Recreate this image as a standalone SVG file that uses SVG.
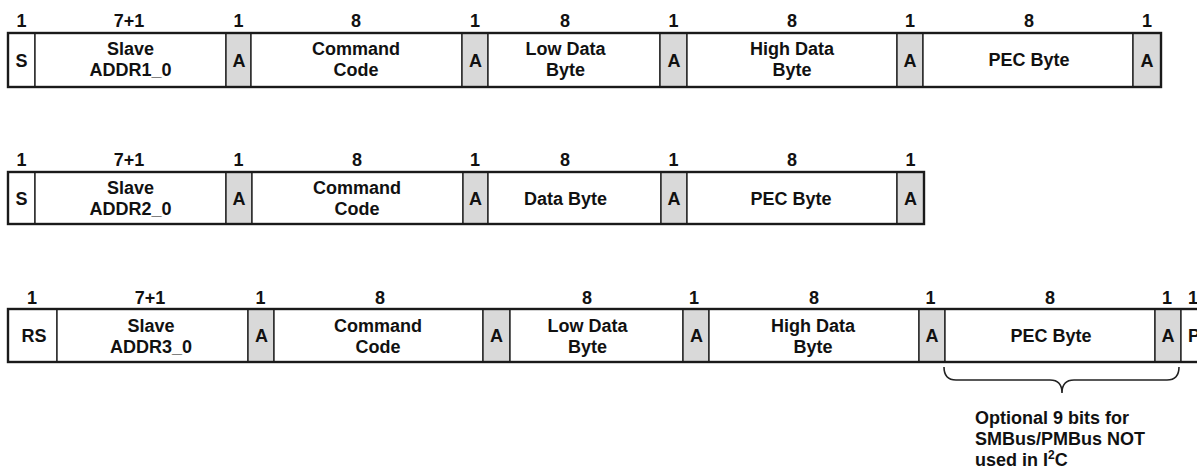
<svg xmlns="http://www.w3.org/2000/svg" width="1197" height="471" viewBox="0 0 1197 471">
<style>
.c{fill:#fff;stroke:#222;stroke-width:1.4}
.a{fill:#d9d9d9;stroke:#222;stroke-width:1.4}
.f{fill:none;stroke:#1a1a1a;stroke-width:2.4}
text{font-family:"Liberation Sans",Arial,sans-serif;font-weight:bold;font-size:18px;fill:#111}
.m{text-anchor:middle}
.br{fill:none;stroke:#222;stroke-width:1.6}
</style>
<rect width="1197" height="471" fill="#fff"/>

<!-- Row 1 -->
<g id="row1">
<g id="r1-s"><rect class="c" x="8" y="33" width="27" height="54"/><text class="m" x="21.5" y="26.5">1</text><text class="m" x="21.5" y="66.5">S</text></g>
<g id="r1-addr"><rect class="c" x="35" y="33" width="191" height="54"/><text class="m" x="129" y="26.5">7+1</text><text class="m" x="130.5" y="55">Slave</text><text class="m" x="130.5" y="76">ADDR1_0</text></g>
<g id="r1-a1"><rect class="a" x="226" y="33" width="25" height="54"/><text class="m" x="238.5" y="26.5">1</text><text class="m" x="239" y="66.5">A</text></g>
<g id="r1-cmd"><rect class="c" x="251" y="33" width="211" height="54"/><text class="m" x="356" y="26.5">8</text><text class="m" x="356" y="55">Command</text><text class="m" x="356" y="76">Code</text></g>
<g id="r1-a2"><rect class="a" x="462" y="33" width="26" height="54"/><text class="m" x="475" y="26.5">1</text><text class="m" x="475.5" y="66.5">A</text></g>
<g id="r1-low"><rect class="c" x="488" y="33" width="172" height="54"/><text class="m" x="565" y="26.5">8</text><text class="m" x="565.5" y="55">Low Data</text><text class="m" x="565.5" y="76">Byte</text></g>
<g id="r1-a3"><rect class="a" x="660" y="33" width="27" height="54"/><text class="m" x="673.5" y="26.5">1</text><text class="m" x="674" y="66.5">A</text></g>
<g id="r1-high"><rect class="c" x="687" y="33" width="210" height="54"/><text class="m" x="792" y="26.5">8</text><text class="m" x="792" y="55">High Data</text><text class="m" x="792" y="76">Byte</text></g>
<g id="r1-a4"><rect class="a" x="897" y="33" width="26" height="54"/><text class="m" x="910" y="26.5">1</text><text class="m" x="910" y="66.5">A</text></g>
<g id="r1-pec"><rect class="c" x="923" y="33" width="210" height="54"/><text class="m" x="1029" y="26.5">8</text><text class="m" x="1029" y="66">PEC Byte</text></g>
<g id="r1-a5"><rect class="a" x="1133" y="33" width="28" height="54"/><text class="m" x="1147" y="26.5">1</text><text class="m" x="1147" y="66.5">A</text></g>
<rect class="f" x="8" y="33" width="1153" height="54"/>
</g>

<!-- Row 2 -->
<g id="row2">
<g id="r2-s"><rect class="c" x="8" y="172" width="27" height="52"/><text class="m" x="21.5" y="166">1</text><text class="m" x="21.5" y="204.5">S</text></g>
<g id="r2-addr"><rect class="c" x="35" y="172" width="191" height="52"/><text class="m" x="129" y="166">7+1</text><text class="m" x="130.5" y="193.5">Slave</text><text class="m" x="130.5" y="214.5">ADDR2_0</text></g>
<g id="r2-a1"><rect class="a" x="226" y="172" width="26" height="52"/><text class="m" x="238.5" y="166">1</text><text class="m" x="239" y="204.5">A</text></g>
<g id="r2-cmd"><rect class="c" x="252" y="172" width="211" height="52"/><text class="m" x="357" y="166">8</text><text class="m" x="357" y="193.5">Command</text><text class="m" x="357" y="214.5">Code</text></g>
<g id="r2-a2"><rect class="a" x="463" y="172" width="25" height="52"/><text class="m" x="475" y="166">1</text><text class="m" x="475.5" y="204.5">A</text></g>
<g id="r2-data"><rect class="c" x="488" y="172" width="173" height="52"/><text class="m" x="565" y="166">8</text><text class="m" x="565.5" y="204.5">Data Byte</text></g>
<g id="r2-a3"><rect class="a" x="661" y="172" width="26" height="52"/><text class="m" x="673.5" y="166">1</text><text class="m" x="674" y="204.5">A</text></g>
<g id="r2-pec"><rect class="c" x="687" y="172" width="210" height="52"/><text class="m" x="792" y="166">8</text><text class="m" x="791" y="204.5">PEC Byte</text></g>
<g id="r2-a4"><rect class="a" x="897" y="172" width="27" height="52"/><text class="m" x="910.5" y="166">1</text><text class="m" x="910.5" y="204.5">A</text></g>
<rect class="f" x="8" y="172" width="916" height="52"/>
</g>

<!-- Row 3 -->
<g id="row3">
<g id="r3-rs"><rect class="c" x="8" y="309" width="49" height="53"/><text class="m" x="32" y="304">1</text><text class="m" x="34" y="342">RS</text></g>
<g id="r3-addr"><rect class="c" x="57" y="309" width="191" height="53"/><text class="m" x="150" y="304">7+1</text><text class="m" x="151" y="331.5">Slave</text><text class="m" x="151" y="352.5">ADDR3_0</text></g>
<g id="r3-a1"><rect class="a" x="248" y="309" width="26" height="53"/><text class="m" x="260.5" y="304">1</text><text class="m" x="261.5" y="342">A</text></g>
<g id="r3-cmd"><rect class="c" x="274" y="309" width="209" height="53"/><text class="m" x="380" y="304">8</text><text class="m" x="378" y="331.5">Command</text><text class="m" x="378" y="352.5">Code</text></g>
<g id="r3-a2"><rect class="a" x="483" y="309" width="27" height="53"/><text class="m" x="496.5" y="342">A</text></g>
<g id="r3-low"><rect class="c" x="510" y="309" width="173" height="53"/><text class="m" x="587" y="304">8</text><text class="m" x="587.5" y="331.5">Low Data</text><text class="m" x="587.5" y="352.5">Byte</text></g>
<g id="r3-a3"><rect class="a" x="683" y="309" width="26" height="53"/><text class="m" x="694" y="304">1</text><text class="m" x="696.5" y="342">A</text></g>
<g id="r3-high"><rect class="c" x="709" y="309" width="210" height="53"/><text class="m" x="814" y="304">8</text><text class="m" x="813" y="331.5">High Data</text><text class="m" x="813" y="352.5">Byte</text></g>
<g id="r3-a4"><rect class="a" x="919" y="309" width="26" height="53"/><text class="m" x="930.5" y="304">1</text><text class="m" x="932" y="342">A</text></g>
<g id="r3-pec"><rect class="c" x="945" y="309" width="210" height="53"/><text class="m" x="1050" y="304">8</text><text class="m" x="1051" y="342">PEC Byte</text></g>
<g id="r3-a5"><rect class="a" x="1155" y="309" width="26" height="53"/><text class="m" x="1167" y="304">1</text><text class="m" x="1168" y="342">A</text></g>
<g id="r3-p"><rect class="c" x="1181" y="309" width="30" height="53"/><text class="m" x="1193" y="304">1</text><text class="m" x="1194" y="342">P</text></g>
<rect class="f" x="8" y="309" width="1205" height="53"/>
</g>

<!-- Brace and note -->
<g id="connectors">
<path class="br" d="M944,367 Q944,380 956,380 L1050,380 Q1062,380 1062,393 Q1062,380 1074,380 L1167,380 Q1179,380 1179,367"/>
</g>
<g id="note">
<text x="975" y="424">Optional 9 bits for</text>
<text x="975" y="445">SMBus/PMBus NOT</text>
<text x="975" y="466">used in I<tspan font-size="12" dy="-7">2</tspan><tspan dy="7">C</tspan></text>
</g>
</svg>
